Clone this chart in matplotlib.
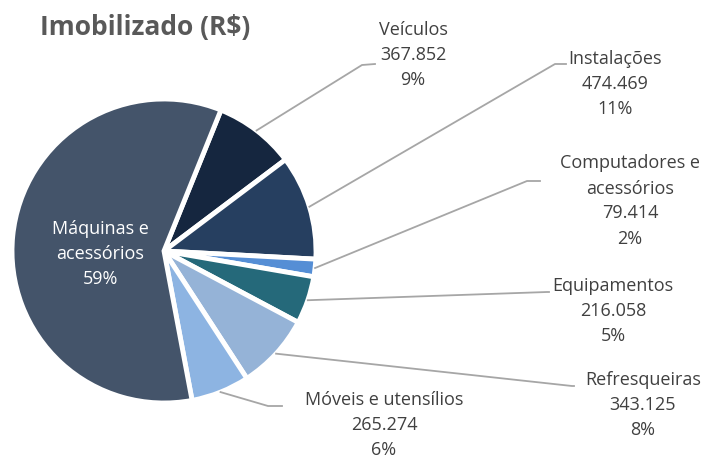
import numpy as np
import matplotlib
matplotlib.use("Agg")
import matplotlib.pyplot as plt

# dados
categorias = ["Veículos", "Instalações", "Computadores e\nacessórios", "Equipamentos",
              "Refresqueiras", "Móveis e utensílios", "Máquinas e\nacessórios"]
valores = [367852, 474469, 79414, 216058, 343125, 265274, 2520000]
mostra_valor = [True, True, True, True, True, True, False]
cores = ["#15263F", "#263F60", "#558ED5", "#25697A", "#95B3D7", "#8DB4E2", "#44546A"]

W, H = 706, 458
fig = plt.figure(figsize=(W / 100, H / 100), dpi=100)
ax = fig.add_axes([0, 0, 1, 1])
ax.set_aspect("equal")

cx, cy, r = 164, H - 251, 152
wedges, _ = ax.pie(valores, colors=cores, startangle=68, counterclock=False,
                   center=(cx, cy), radius=r, frame=True,
                   wedgeprops=dict(edgecolor="white", linewidth=3.5))
ax.set_xlim(0, W)
ax.set_ylim(0, H)
ax.axis("off")

total = sum(valores)
fonte = "Open Sans"

# posição dos rótulos (pixels) e cotovelo da linha guia
pos_rotulo = [(413, 55), (615, 84), (630, 201), (613, 311), (643, 405), (384, 425), (100, 254)]
cotovelo = [(362, 65), (555, 64), (527, 181), (547, 292), (572, 386), (268, 406), None]
fim_linha = [(375, 64), (566, 64), (540, 181), (549, 292), (574, 386), (282, 406), None]

for i, w in enumerate(wedges):
    pct = 100 * valores[i] / total
    if mostra_valor[i]:
        txt = "%s\n%s\n%d%%" % (categorias[i], f"{valores[i]:,}".replace(",", "."), round(pct))
        cor = "#404040"
    else:
        txt = "%s\n%d%%" % (categorias[i], round(pct))
        cor = "white"
    x, y = pos_rotulo[i]
    ax.text(x, H - y, txt, ha="center", va="center", fontsize=13, color=cor,
            family=fonte, linespacing=1.5)
    if cotovelo[i] is not None:
        ang = np.deg2rad((w.theta1 + w.theta2) / 2)
        x0 = cx + r * np.cos(ang)
        y0 = cy + r * np.sin(ang)
        ex, ey = cotovelo[i]
        fx, fy = fim_linha[i]
        ax.plot([x0, ex, fx], [y0, H - ey, H - fy], color="#A6A6A6", lw=1.3)

ax.text(40, H - 27, "Imobilizado (R$)", fontsize=19, fontweight="bold", color="#595959",
        family=fonte, va="center", ha="left")

fig.savefig("out.png", dpi=100)
